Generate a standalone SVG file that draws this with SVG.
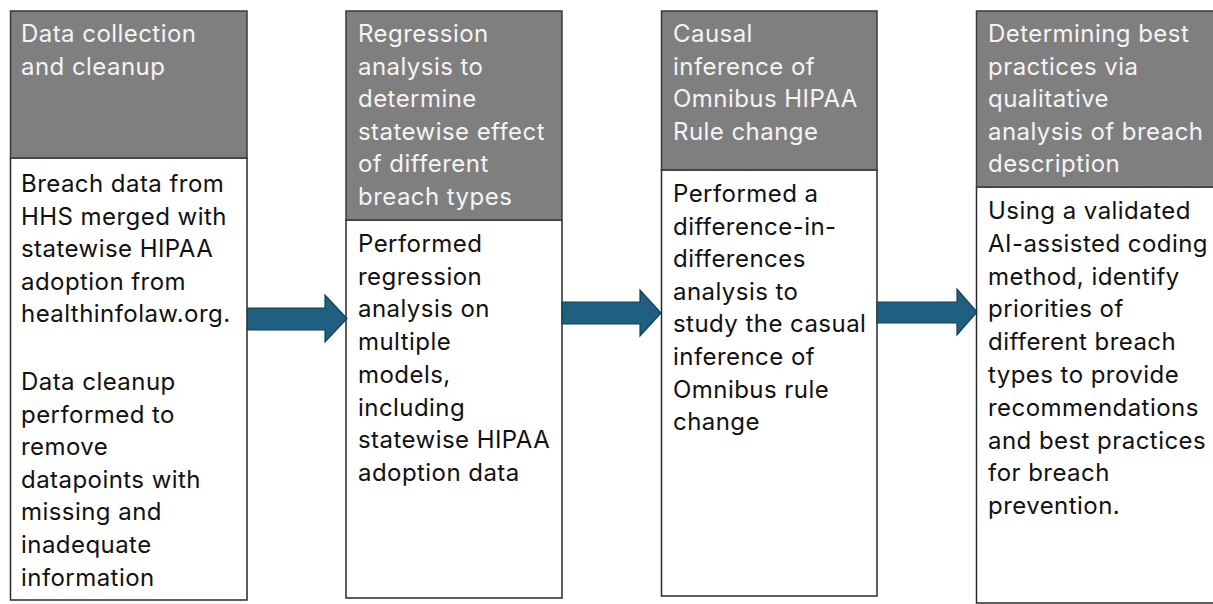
<svg xmlns="http://www.w3.org/2000/svg" width="1213" height="604" viewBox="0 0 1213 604">
<style>
.hdr{fill:#7f7f7f;stroke:#3a3a3a;stroke-width:1.5}
.body{fill:#ffffff;stroke:#2a2a2a;stroke-width:1.5}
.ht{font-family:Inter,"Noto Sans","Liberation Sans",sans-serif;font-size:24px;letter-spacing:0.45px;fill:#f4f4f4}
.bt{font-family:Inter,"Noto Sans","Liberation Sans",sans-serif;font-size:24px;letter-spacing:0.45px;fill:#111111}
.arr{fill:#1f5f80;stroke:#163f55;stroke-width:1.2;stroke-linejoin:miter}
</style>
<rect width="1213" height="604" fill="#ffffff"/>
<g id="node1">
<rect class="body" x="10.5" y="158" width="236.5" height="442"/>
<rect class="hdr" x="10.5" y="11" width="236.5" height="147"/>
<text class="ht" x="21"><tspan x="21" y="42">Data collection</tspan><tspan x="21" y="75">and cleanup</tspan></text>
<text class="bt"><tspan x="21" y="192">Breach data from</tspan><tspan x="21" y="224.5">HHS merged with</tspan><tspan x="21" y="257">statewise HIPAA</tspan><tspan x="21" y="289.5">adoption from</tspan><tspan x="21" y="322">healthinfolaw.org.</tspan><tspan x="21" y="390">Data cleanup</tspan><tspan x="21" y="422.6">performed to</tspan><tspan x="21" y="455.2">remove</tspan><tspan x="21" y="487.8">datapoints with</tspan><tspan x="21" y="520.4">missing and</tspan><tspan x="21" y="553">inadequate</tspan><tspan x="21" y="585.6">information</tspan></text>
</g>
<g id="node2">
<rect class="body" x="346" y="220" width="216" height="378"/>
<rect class="hdr" x="346" y="11" width="216" height="209"/>
<text class="ht"><tspan x="358" y="42">Regression</tspan><tspan x="358" y="74.6">analysis to</tspan><tspan x="358" y="107.2">determine</tspan><tspan x="358" y="139.8">statewise effect</tspan><tspan x="358" y="172.4">of different</tspan><tspan x="358" y="205">breach types</tspan></text>
<text class="bt"><tspan x="358" y="252">Performed</tspan><tspan x="358" y="284.7">regression</tspan><tspan x="358" y="317.4">analysis on</tspan><tspan x="358" y="350.1">multiple</tspan><tspan x="358" y="382.8">models,</tspan><tspan x="358" y="415.5">including</tspan><tspan x="358" y="448.2">statewise HIPAA</tspan><tspan x="358" y="480.9">adoption data</tspan></text>
</g>
<g id="node3">
<rect class="body" x="661.5" y="170" width="215.5" height="426"/>
<rect class="hdr" x="661.5" y="11" width="215.5" height="159"/>
<text class="ht"><tspan x="673" y="42">Causal</tspan><tspan x="673" y="74.6">inference of</tspan><tspan x="673" y="107.2">Omnibus HIPAA</tspan><tspan x="673" y="139.8">Rule change</tspan></text>
<text class="bt"><tspan x="673" y="202">Performed a</tspan><tspan x="673" y="234.6">difference-in-</tspan><tspan x="673" y="267.2">differences</tspan><tspan x="673" y="299.8">analysis to</tspan><tspan x="673" y="332.4">study the casual</tspan><tspan x="673" y="365">inference of</tspan><tspan x="673" y="397.6">Omnibus rule</tspan><tspan x="673" y="430.2">change</tspan></text>
</g>
<g id="node4">
<rect class="body" x="976.5" y="187" width="250" height="416"/>
<rect class="hdr" x="976.5" y="11" width="250" height="176"/>
<text class="ht"><tspan x="988" y="42">Determining best</tspan><tspan x="988" y="74.6">practices via</tspan><tspan x="988" y="107.2">qualitative</tspan><tspan x="988" y="139.8">analysis of breach</tspan><tspan x="988" y="172.4">description</tspan></text>
<text class="bt"><tspan x="988" y="219">Using a validated</tspan><tspan x="988" y="251.8">AI-assisted coding</tspan><tspan x="988" y="284.6">method, identify</tspan><tspan x="988" y="317.4">priorities of</tspan><tspan x="988" y="350.2">different breach</tspan><tspan x="988" y="383">types to provide</tspan><tspan x="988" y="415.8">recommendations</tspan><tspan x="988" y="448.6">and best practices</tspan><tspan x="988" y="481.4">for breach</tspan><tspan x="988" y="514.2">prevention.</tspan></text>
</g>
<g id="connectors">
<polygon class="arr" points="247.5,308 325,308 325,295 347,318.5 325,342 325,330 247.5,330"/>
<polygon class="arr" points="562,302 640,302 640,290 661,313 640,336 640,324 562,324"/>
<polygon class="arr" points="877,302 957,302 957,289 977,312 957,335 957,323 877,323"/>
</g>
</svg>
